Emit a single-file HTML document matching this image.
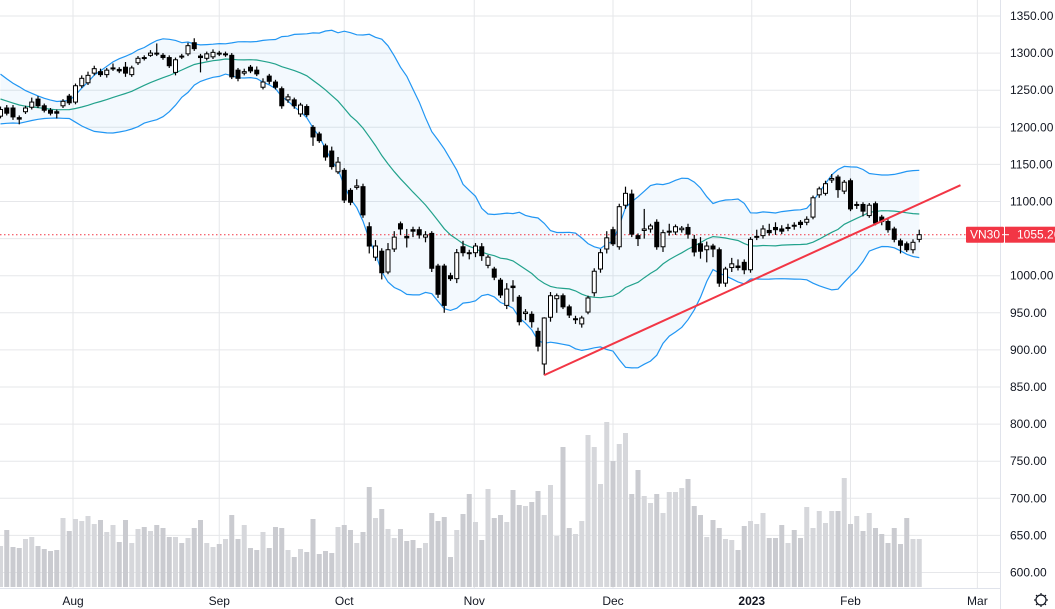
<!DOCTYPE html>
<html><head><meta charset="utf-8"><style>
html,body{margin:0;padding:0;background:#fff;width:1055px;height:609px;overflow:hidden}
svg{display:block;font-family:"Liberation Sans",sans-serif}
</style></head><body>
<svg id="chart" width="1055" height="609" viewBox="0 0 1055 609" xmlns="http://www.w3.org/2000/svg">
<g id="grid"></g>
<g id="vol"></g>
<g id="bands"></g>
<g id="candles"></g>
<g id="trend"></g>
<g id="axes"></g>
</svg>
<script>
const priceTicks = [1350,1300,1250,1200,1150,1100,1050,1000,950,900,850,800,750,700,650,600];
const monthLabels = ["Aug","Sep","Oct","Nov","Dec","2023","Feb","Mar"];
const monthIndex = [11.6,35,55,75.8,98,120.2,136,156.3];
const priorCloses = [1275,1270,1262,1258,1252,1248,1244,1240,1236,1232,1230,1228,1226,1224,1222,1224,1226,1222,1220];
const opens = [1215,1226,1226,1213,1221,1227,1238,1229,1223,1221,1229,1242,1234,1256,1260,1273,1275,1271,1279,1278,1281,1271,1287,1294,1297,1300,1297,1294,1274,1296,1299,1314,1296,1293,1295,1300,1298,1297,1277,1273,1281,
1277,1254,1269,1261,1252,1237,1237,1218,1228,1200,1191,1175,1168,1140,1142,1115,1119,1120,1066,1025,1033,1005,1036,1070,1053,1062,1062,1052,1057,1013,1013,1000,996,1039,1031,
1031,1039,1014,1009,994,960,986,971,949,948,925,881,944,969,973,958,941,935,951,977,1009,1036,1062,1039,1095,1110,1054,1061,1063,1072,1039,1059,1059,1062,1065,
1049,1043,1035,1040,1035,990,1011,1013,1018,1008,1052,1054,1061,1065,1063,1064,1068,1072,1072,1079,1109,1111,1129,1133,1114,1128,1095,1096,1081,1097,1079,1073,1063,1047,1043,1035,1049];
const closes = [1224,1219,1214,1211,1226,1234,1229,1223,1219,1219,1235,1233,1256,1266,1270,1279,1271,1277,1280,1276,1273,1280,1293,1293,1300,1299,1294,1283,1291,1295,1310,1306,1294,1299,1301,1299,1299,1268,1266,1275,1276,
1272,1261,1262,1254,1229,1241,1229,1230,1217,1187,1182,1160,1147,1153,1102,1099,1121,1082,1040,1040,1004,1035,1052,1063,1051,1060,1055,1055,1010,975,960,996,1031,1031,1030,
1040,1027,1025,998,974,982,984,938,951,938,905,943,973,973,958,947,942,943,970,1006,1031,1051,1043,1093,1111,1056,1050,1063,1067,1039,1058,1060,1066,1064,1056,
1032,1033,1040,1036,990,1009,1016,1011,1008,1049,1053,1063,1058,1062,1060,1065,1067,1069,1076,1105,1117,1124,1131,1116,1126,1090,1096,1087,1095,1071,1073,1062,1049,1041,1035,1045,1055.26];
const highs = [1228,1230,1230,1216,1229,1240,1242,1232,1226,1224,1238,1245,1259,1270,1275,1283,1279,1280,1286,1281,1288,1283,1296,1297,1304,1313,1300,1297,1294,1299,1314,1320,1299,1302,1305,1303,1302,1300,1280,1279,1284,
1282,1266,1272,1264,1255,1245,1240,1233,1231,1203,1194,1178,1174,1160,1145,1118,1130,1124,1072,1048,1037,1044,1060,1073,1063,1066,1066,1060,1060,1016,1016,1004,1036,1047,1035,
1044,1044,1028,1012,997,990,994,974,955,952,930,944,978,976,976,961,946,946,973,1010,1036,1060,1066,1097,1120,1116,1057,1090,1070,1076,1062,1070,1069,1067,1070,
1055,1052,1046,1043,1038,1012,1024,1022,1022,1052,1062,1068,1070,1072,1068,1070,1072,1075,1080,1108,1120,1128,1137,1136,1129,1131,1100,1099,1098,1100,1082,1076,1066,1050,1046,1049,1062];
const lows = [1212,1216,1210,1204,1218,1224,1226,1220,1216,1212,1226,1230,1231,1253,1257,1270,1268,1267,1276,1273,1268,1268,1284,1290,1295,1296,1291,1280,1270,1292,1296,1303,1274,1290,1292,1296,1295,1265,1262,1270,1273,
1269,1251,1258,1251,1225,1233,1225,1214,1214,1175,1179,1155,1143,1137,1098,1095,1116,1078,1030,1020,995,1002,1032,1055,1038,1052,1050,1045,1005,970,950,993,990,1026,1022,
1025,1020,1010,994,970,955,965,933,940,930,898,866,938,950,955,943,935,930,948,972,1004,1030,1040,1035,1090,1052,1040,1050,1058,1035,1032,1054,1055,1058,1050,
1026,1023,1018,1025,985,985,1005,1007,1002,1004,1048,1050,1054,1055,1056,1060,1062,1064,1068,1076,1105,1108,1125,1105,1110,1087,1090,1080,1078,1068,1068,1058,1045,1030,1032,1030,1045];
const volumes = [41,57,40,39,48,50,41,38,36,37,69,56,68,66,71,63,67,55,62,45,67,44,58,60,56,62,59,50,50,44,49,59,67,44,40,43,48,72,48,62,39,37,55,39,60,59,37,30,38,35,68,33,36,34,60,62,57,44,55,100,69,78,58,49,58,46,47,39,44,74,66,70,30,
57,73,93,65,47,98,69,72,65,97,82,81,85,96,72,102,51,140,59,53,66,152,140,103,165,126,143,154,93,117,91,84,93,74,95,95,99,108,81,72,50,67,59,48,47,37,61,66,63,74,49,49,62,44,57,49,80,59,76,64,76,76,109,63,71,56,74,59,53,44,59,43,69,48,48];
const trendIdx = [87,153.6];
const trendPrice = [866,1122];
const lastPrice = 1055.26;

const NS="http://www.w3.org/2000/svg";
const PLOT_R=1000, STEP=6.25;
function xOf(i){return 0.5+i*STEP;}
function yOf(p){return 16+(1350-p)*0.742;}
function vY(v){return 587-v;}
function mk(tag,attrs,parent){const e=document.createElementNS(NS,tag);for(const k in attrs)e.setAttribute(k,attrs[k]);parent.appendChild(e);return e;}
const G=id=>document.getElementById(id);

const grid=G('grid');
priceTicks.forEach(p=>{const l=mk('line',{x1:0,x2:PLOT_R,y1:yOf(p),y2:yOf(p),stroke:'#e6e7ea','stroke-width':1},grid);

});
monthIndex.forEach(i=>{const l=mk('line',{x1:xOf(i),x2:xOf(i),y1:0,y2:588,stroke:'#e6e7ea','stroke-width':1},grid);

});

const vol=G('vol');
volumes.forEach((v,i)=>{const up=closes[i]>=opens[i];
const r=mk('rect',{x:xOf(i)-2.5,y:vY(v),width:5,height:v,fill:up?'#d6d7db':'#cacbd0'},vol);

});

const all=priorCloses.concat(closes), off=priorCloses.length;
const up=[],mid=[],lo=[];
for(let i=0;i<closes.length;i++){const w=all.slice(i+off-19,i+off+1);const m=w.reduce((a,b)=>a+b,0)/w.length;
const sd=Math.sqrt(w.reduce((a,b)=>a+(b-m)*(b-m),0)/w.length);mid.push(m);up.push(m+2*sd);lo.push(m-2*sd);}
const bands=G('bands');
const pts=a=>a.map((p,i)=>xOf(i).toFixed(1)+','+yOf(p).toFixed(1));
const fill=mk('polygon',{points:pts(up).concat(pts(lo).reverse()).join(' '),fill:'rgba(33,150,243,0.055)'},bands);


const bu=mk('polyline',{points:pts(up).join(' '),fill:'none',stroke:'#2196f3','stroke-width':1.2},bands);


const bl=mk('polyline',{points:pts(lo).join(' '),fill:'none',stroke:'#2196f3','stroke-width':1.2},bands);


const bm=mk('polyline',{points:pts(mid).join(' '),fill:'none',stroke:'#22a28c','stroke-width':1.2},bands);



const lp=mk('line',{x1:0,x2:PLOT_R,y1:yOf(lastPrice),y2:yOf(lastPrice),stroke:'#f23645','stroke-width':1,'stroke-dasharray':'1.5 2.5'},bands);



const cg=G('candles');
closes.forEach((c,i)=>{const o=opens[i],x=xOf(i),upC=c>=o;
const g=mk('g',{},cg);


mk('line',{x1:x,x2:x,y1:yOf(highs[i]),y2:yOf(lows[i]),stroke:'#000','stroke-width':1.2},g);
const t=yOf(Math.max(o,c)),b=yOf(Math.min(o,c));
mk('rect',{x:x-2,y:t,width:4,height:Math.max(b-t,1),fill:upC?'#fff':'#000',stroke:'#000','stroke-width':1},g);});

const tr=mk('line',{x1:xOf(trendIdx[0]),y1:yOf(trendPrice[0]),x2:xOf(trendIdx[1]),y2:yOf(trendPrice[1]),stroke:'#f23645','stroke-width':2},G('trend'));



const ax=G('axes');
const sep=mk('line',{x1:1000.5,x2:1000.5,y1:0,y2:609,stroke:'#e0e3eb','stroke-width':1},ax);


const bsep=mk('line',{x1:0,x2:1000,y1:588.5,y2:588.5,stroke:'#e0e3eb','stroke-width':1},ax);


priceTicks.forEach(p=>{const t=mk('text',{x:1010,y:yOf(p)+4,'font-size':12,fill:'#131722'},ax);t.textContent=p.toFixed(2);

});
monthLabels.forEach((m,k)=>{const t=mk('text',{x:xOf(monthIndex[k]),y:605,'font-size':12,fill:'#131722','text-anchor':'middle','font-weight':m==='2023'?'bold':'normal'},ax);t.textContent=m;

});
const ly=yOf(lastPrice);
const b1=mk('g',{},ax);


mk('rect',{x:966,y:ly-8,width:38,height:16,fill:'#f23645',rx:1},b1);
const t1=mk('text',{x:985,y:ly+4,'font-size':12,fill:'#fff','text-anchor':'middle'},b1);t1.textContent='VN30';
const b2=mk('g',{},ax);


mk('rect',{x:1005,y:ly-8,width:50,height:16,fill:'#f23645'},b2);
const t2=mk('text',{x:1017,y:ly+4,'font-size':12,fill:'#fff'},b2);t2.textContent=lastPrice.toFixed(2);
mk('line',{x1:1002,x2:1009,y1:ly,y2:ly,stroke:'#fff','stroke-width':1},b2);
const gear=mk('g',{transform:'translate(1041,600)'},ax);


mk('circle',{cx:0,cy:0,r:5,fill:'none',stroke:'#131722','stroke-width':1.2},gear);
for(let a=0;a<8;a++){const r=a*Math.PI/4;mk('line',{x1:Math.cos(r)*5,y1:Math.sin(r)*5,x2:Math.cos(r)*7,y2:Math.sin(r)*7,stroke:'#131722','stroke-width':1.2},gear);}
</script>
</body></html>
